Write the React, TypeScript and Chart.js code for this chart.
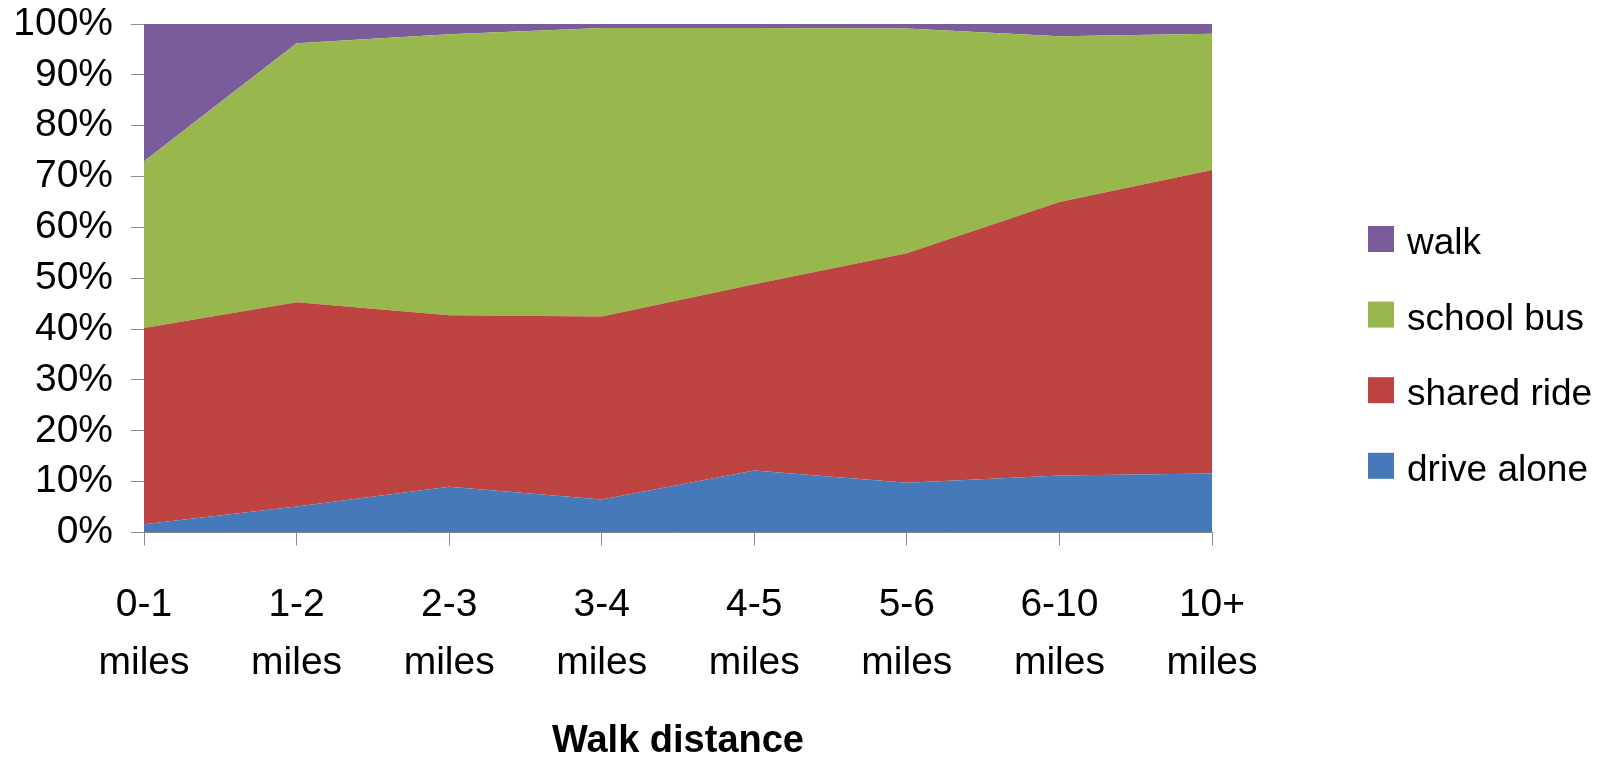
import React, { useEffect, useRef } from "react";
import { Chart, registerables } from "chart.js";

Chart.register(...registerables);

const categories: string[][] = [
  ["0-1", "miles"],
  ["1-2", "miles"],
  ["2-3", "miles"],
  ["3-4", "miles"],
  ["4-5", "miles"],
  ["5-6", "miles"],
  ["6-10", "miles"],
  ["10+", "miles"],
];

const driveAlone = [1.6, 5.1, 9.0, 6.5, 12.2, 9.8, 11.2, 11.6];
const sharedRide = [38.6, 40.2, 33.7, 36.0, 36.6, 45.1, 53.8, 59.7];
const schoolBus = [32.8, 50.9, 55.3, 56.7, 50.4, 44.2, 32.6, 26.8];
const walk = [27.0, 3.8, 2.0, 0.8, 0.8, 0.9, 2.4, 1.9];

const yTicks = [0, 10, 20, 30, 40, 50, 60, 70, 80, 90, 100];

const FONT = '"Liberation Sans", Arial, sans-serif';

const sideLegend = {
  id: "sideLegend",
  afterDraw(chart: any) {
    const ctx = chart.ctx;
    const ds = chart.data.datasets;
    ctx.save();
    ctx.font = `37px ${FONT}`;
    ctx.textBaseline = "middle";
    ctx.textAlign = "left";
    let k = 0;
    for (let i = ds.length - 1; i >= 0; i--, k++) {
      const cy = 239 + k * 75.6;
      ctx.fillStyle = ds[i].backgroundColor;
      ctx.fillRect(1368, cy - 13, 26, 26);
      ctx.fillStyle = "#000";
      ctx.fillText(ds[i].label, 1407, cy + 5);
    }
    ctx.restore();
  },
};

export default function App() {
  const ref = useRef<HTMLCanvasElement | null>(null);

  useEffect(() => {
    if (!ref.current) return;
    const mk = (label: string, data: number[], color: string, fill: any) => ({
      label,
      data,
      backgroundColor: color,
      borderColor: color,
      borderWidth: 0,
      pointRadius: 0,
      pointHoverRadius: 0,
      tension: 0,
      fill,
    });
    const chart = new Chart(ref.current, {
      type: "line",
      data: {
        labels: categories,
        datasets: [
          mk("drive alone", driveAlone, "#4679BA", "origin"),
          mk("shared ride", sharedRide, "#BE4441", "-1"),
          mk("school bus", schoolBus, "#98B84D", "-1"),
          mk("walk", walk, "#7B5C9B", "-1"),
        ],
      },
      options: {
        animation: false,
        responsive: false,
        layout: { padding: { left: 0, top: 24, right: 406, bottom: 0 } },
        plugins: {
          legend: { display: false },
          tooltip: { enabled: false },
        },
        scales: {
          x: {
            offset: false,
            grid: {
              drawOnChartArea: false,
              drawTicks: true,
              tickLength: 13,
              color: "#8c8c8c",
            },
            border: { color: "#8c8c8c", width: 1 },
            ticks: {
              color: "#000",
              padding: 31,
              maxRotation: 0,
              autoSkip: false,
              font: { family: FONT, size: 39, lineHeight: 1.487 },
            },
            title: {
              display: true,
              text: "Walk distance",
              color: "#000",
              padding: { top: 0, bottom: 0 },
              font: { family: FONT, size: 38, weight: "bold", lineHeight: 1 },
            },
            afterFit: (s: any) => {
              s.height = 228.5;
            },
          },
          y: {
            stacked: true,
            min: 0,
            max: 100,
            afterBuildTicks: (s: any) => {
              s.ticks = yTicks.map((v) => ({ value: v }));
            },
            grid: {
              drawOnChartArea: false,
              drawTicks: true,
              tickLength: 13,
              color: "#8c8c8c",
            },
            border: { color: "#8c8c8c", width: 1 },
            ticks: {
              color: "#000",
              padding: 18,
              autoSkip: false,
              font: { family: FONT, size: 39 },
              callback: (v: any) => `${v}%`,
            },
            afterFit: (s: any) => {
              s.width = 144;
              s.paddingTop = 0;
              s.paddingBottom = 0;
            },
          },
        },
      },
      plugins: [sideLegend],
    });
    return () => chart.destroy();
  }, []);

  return (
    <div style={{ position: "absolute", left: 0, top: 0, width: 1618, height: 761, background: "#fff" }}>
      <canvas ref={ref} width={1618} height={761} style={{ display: "block" }} />
    </div>
  );
}
